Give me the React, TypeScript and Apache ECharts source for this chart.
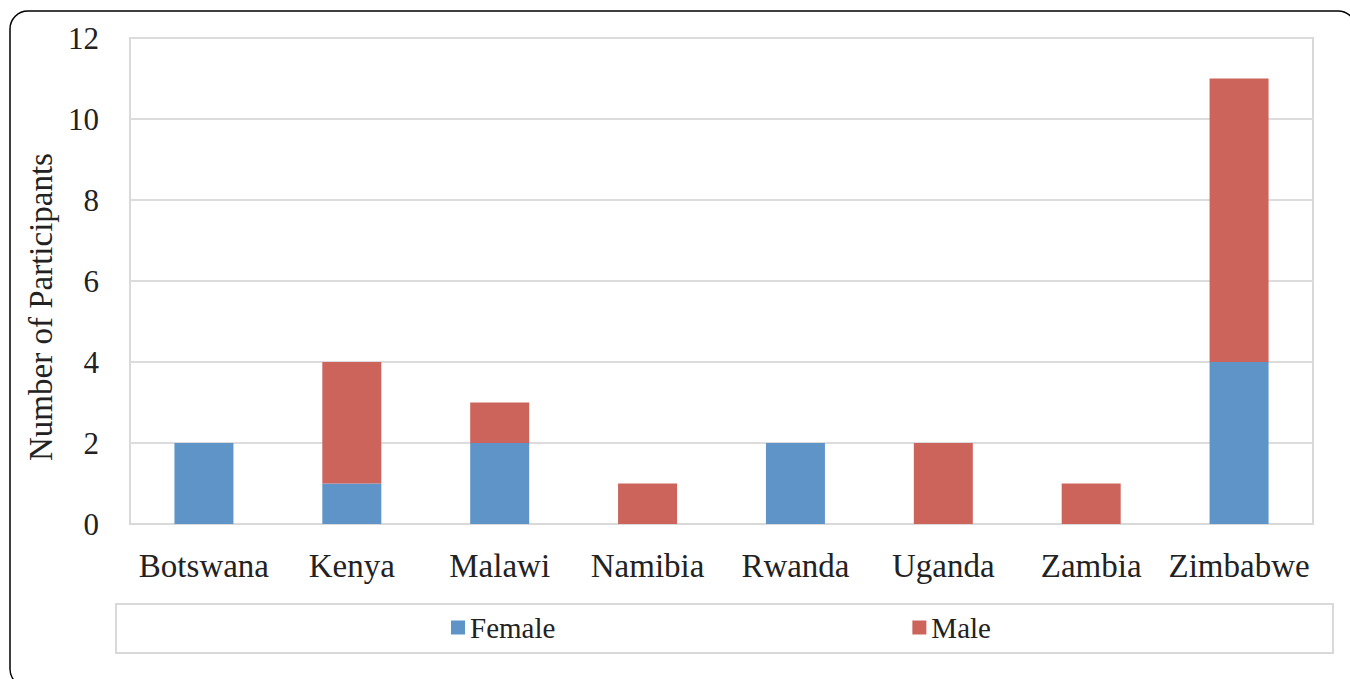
import React, { useEffect, useRef } from "react";
import * as echarts from "echarts";

const categories = ["Botswana", "Kenya", "Malawi", "Namibia", "Rwanda", "Uganda", "Zambia", "Zimbabwe"];
const female = [2, 1, 2, 0, 2, 0, 0, 4];
const male = [0, 3, 1, 1, 0, 2, 1, 7];
const seriesNames = ["Female", "Male"];
const colors = ["#5e94c8", "#cc645c"];

const FONT = "Liberation Serif";

export default function App() {
  const ref = useRef<HTMLDivElement>(null);
  useEffect(() => {
    document.body.style.margin = "0";
    const chart = echarts.init(ref.current!, null, { renderer: "svg" });
    chart.setOption({
      animation: false,
      backgroundColor: "#ffffff",
      textStyle: { fontFamily: FONT },
      grid: { left: 130, top: 38, right: 37, bottom: 155, show: true, borderColor: "#d9d9d9", borderWidth: 2 },
      legend: {
        data: seriesNames,
        left: 446,
        top: 608,
        itemWidth: 14,
        itemHeight: 14,
        itemGap: 357,
        icon: "rect",
        textStyle: { fontSize: 29, color: "#222", fontFamily: FONT },
      },
      graphic: [
        {
          type: "rect",
          shape: { x: 10, y: 11, width: 1346, height: 676, r: 18 },
          style: { fill: "none", stroke: "#000", lineWidth: 1.5 },
          silent: true,
        },
        {
          type: "rect",
          shape: { x: 116, y: 604, width: 1217, height: 49 },
          style: { fill: "none", stroke: "#d9d9d9", lineWidth: 2 },
          silent: true,
        },
      ],
      xAxis: {
        type: "category",
        data: categories,
        axisLine: { show: true, lineStyle: { color: "#d9d9d9", width: 2 } },
        axisTick: { show: false },
        axisLabel: { fontSize: 33, color: "#222", margin: 25, fontFamily: FONT, interval: 0 },
      },
      yAxis: {
        type: "value",
        min: 0,
        max: 12,
        interval: 2,
        name: "Number of Participants",
        nameLocation: "middle",
        nameGap: 67,
        nameTextStyle: { fontSize: 33, color: "#222", fontFamily: FONT, padding: [0, 52, 0, 0] },
        axisLine: { show: false },
        axisTick: { show: false },
        axisLabel: { fontSize: 31, color: "#222", margin: 31, fontFamily: FONT },
        splitLine: { lineStyle: { color: "#dcdcdc", width: 2 } },
      },
      series: [
        { name: seriesNames[0], type: "bar", stack: "total", data: female, barWidth: 59, itemStyle: { color: colors[0] } },
        { name: seriesNames[1], type: "bar", stack: "total", data: male, barWidth: 59, itemStyle: { color: colors[1] } },
      ],
    });
    return () => chart.dispose();
  }, []);
  return <div ref={ref} style={{ width: 1350, height: 679 }} />;
}
